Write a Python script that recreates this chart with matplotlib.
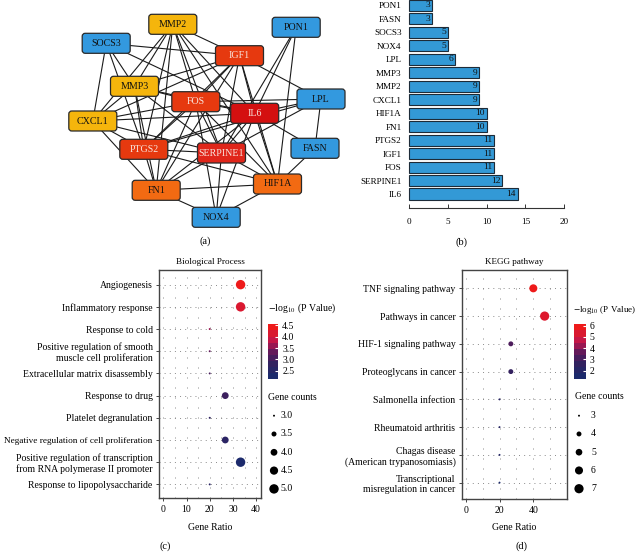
import matplotlib
matplotlib.use("Agg")
import matplotlib.pyplot as plt
import matplotlib.cm as cm
import numpy as np
from matplotlib.patches import FancyBboxPatch
from matplotlib.colors import LinearSegmentedColormap, Normalize

plt.rcParams['font.family'] = ['Liberation Serif', 'DejaVu Serif']
plt.rcParams['mathtext.fontset'] = 'stix'
plt.rcParams['lines.scale_dashes'] = False

W, H = 636, 553

# hub genes, degree in the PPI network (panels a, b)
genes = ["IL6", "SERPINE1", "FOS", "IGF1", "PTGS2", "FN1", "HIF1A", "CXCL1",
         "MMP2", "MMP3", "LPL", "NOX4", "SOCS3", "FASN", "PON1"]
degree = [14, 12, 11, 11, 11, 10, 10, 9, 9, 9, 6, 5, 5, 3, 3]

# network layout (pixel positions of node centres)
node_xy = {
    "MMP2": (172.8, 24.3), "PON1": (296.2, 27.3), "SOCS3": (106.2, 43.3),
    "IGF1": (239.5, 55.7), "MMP3": (134.5, 86.3), "LPL": (321.0, 99.0),
    "FOS": (195.8, 101.7), "IL6": (254.7, 113.3), "CXCL1": (92.8, 121.0),
    "FASN": (315.0, 148.3), "PTGS2": (143.8, 149.3), "SERPINE1": (221.5, 153.0),
    "HIF1A": (277.5, 184.0), "FN1": (156.2, 190.3), "NOX4": (216.2, 217.3),
}

edges = [
    ("PON1", "IL6"), ("PON1", "SERPINE1"), ("PON1", "HIF1A"),
    ("FASN", "LPL"), ("FASN", "IL6"), ("FASN", "HIF1A"),
    ("LPL", "IL6"), ("LPL", "FOS"), ("LPL", "IGF1"), ("LPL", "SERPINE1"), ("LPL", "PTGS2"),
    ("SOCS3", "IGF1"), ("SOCS3", "IL6"), ("SOCS3", "CXCL1"), ("SOCS3", "MMP3"), ("SOCS3", "PTGS2"),
    ("NOX4", "FN1"), ("NOX4", "HIF1A"), ("NOX4", "SERPINE1"), ("NOX4", "IL6"), ("NOX4", "FOS"),
    ("MMP2", "IGF1"), ("MMP2", "MMP3"), ("MMP2", "FOS"), ("MMP2", "IL6"), ("MMP2", "CXCL1"),
    ("MMP2", "PTGS2"), ("MMP2", "SERPINE1"), ("MMP2", "FN1"), ("MMP2", "HIF1A"),
    ("MMP3", "IGF1"), ("MMP3", "FOS"), ("MMP3", "IL6"), ("MMP3", "CXCL1"), ("MMP3", "PTGS2"),
    ("MMP3", "SERPINE1"), ("MMP3", "FN1"),
    ("CXCL1", "IGF1"), ("CXCL1", "FOS"), ("CXCL1", "IL6"), ("CXCL1", "PTGS2"),
    ("CXCL1", "SERPINE1"), ("CXCL1", "FN1"),
    ("IL6", "IGF1"), ("IL6", "FOS"), ("IL6", "PTGS2"), ("IL6", "SERPINE1"), ("IL6", "FN1"), ("IL6", "HIF1A"),
    ("SERPINE1", "FOS"), ("SERPINE1", "IGF1"), ("SERPINE1", "PTGS2"), ("SERPINE1", "HIF1A"), ("SERPINE1", "FN1"),
    ("IGF1", "FOS"), ("IGF1", "PTGS2"), ("IGF1", "FN1"), ("IGF1", "HIF1A"),
    ("FOS", "PTGS2"), ("FOS", "FN1"), ("FOS", "HIF1A"),
    ("PTGS2", "FN1"), ("PTGS2", "HIF1A"), ("FN1", "HIF1A"),
]

# (c) GO biological process
bp_terms = ["Angiogenesis", "Inflammatory response", "Response to cold",
            "Positive regulation of smooth\nmuscle cell proliferation",
            "Extracellular matrix disassembly", "Response to drug",
            "Platelet degranulation", "Negative regulation of cell proliferation",
            "Positive regulation of transcription\nfrom RNA polymerase II promoter",
            "Response to lipopolysaccharide"]
bp_ratio = [33.3, 33.3, 20.0, 20.0, 20.0, 26.7, 20.0, 26.7, 33.3, 20.0]
bp_count = [5, 5, 3, 3, 3, 4, 3, 4, 5, 3]
bp_logp = [4.55, 4.25, 3.65, 3.3, 3.05, 2.9, 2.65, 2.55, 2.12, 2.5]
bp_cb_ticks = [2.5, 3.0, 3.5, 4.0, 4.5]
bp_size_legend = [3.0, 3.5, 4.0, 4.5, 5.0]

# (d) KEGG pathway
kegg_terms = ["TNF signaling pathway", "Pathways in cancer", "HIF-1 signaling pathway",
              "Proteoglycans in cancer", "Salmonella infection", "Rheumatoid arthritis",
              "Chagas disease\n(American trypanosomiasis)",
              "Transcriptional\nmisregulation in cancer"]
kegg_ratio = [40.0, 46.7, 26.7, 26.7, 20.0, 20.0, 20.0, 20.0]
kegg_count = [6, 7, 4, 4, 3, 3, 3, 3]
kegg_logp = [6.12, 5.6, 3.2, 2.6, 2.0, 1.85, 1.7, 1.3]
kegg_cb_ticks = [2, 3, 4, 5, 6]
kegg_size_legend = [3, 4, 5, 6, 7]

cmap = LinearSegmentedColormap.from_list(
    "p", [(0, "#1c2a6c"), (0.3, "#36205e"), (0.5, "#64195a"), (0.72, "#c0164c"), (1.0, "#ee1a1a")])


def px_rect(x0, y0, x1, y1):
    return [x0 / W, 1 - y1 / H, (x1 - x0) / W, (y1 - y0) / H]


def node_style(d):
    if d >= 14:
        return "#d41010", "#f8e4dc"
    if d >= 12:
        return "#e0261a", "#f8e4dc"
    if d >= 11:
        return "#e6390f", "#f8e4dc"
    if d >= 10:
        return "#f26a12", "#111111"
    if d >= 9:
        return "#f5b50c", "#111111"
    return "#3399df", "#111111"


fig = plt.figure(figsize=(W / 100, H / 100), dpi=100)

# overlay axes in pixel coordinates: network, labels, size legends
ov = fig.add_axes([0, 0, 1, 1])
ov.set_xlim(0, W)
ov.set_ylim(H, 0)
ov.axis("off")

for a, b in edges:
    (x1, y1), (x2, y2) = node_xy[a], node_xy[b]
    ov.plot([x1, x2], [y1, y2], color="#1a1a1a", lw=0.8, zorder=1)

bw, bh = 48, 20
for g, d in zip(genes, degree):
    cx, cy = node_xy[g]
    fc, tc = node_style(d)
    ov.add_patch(FancyBboxPatch((cx - bw / 2, cy - bh / 2), bw, bh,
                                boxstyle="round,pad=0,rounding_size=3",
                                fc=fc, ec="#2a2a2a", lw=0.9, zorder=2))
    ov.text(cx, cy, g, ha="center", va="center", fontsize=7.2, color=tc, zorder=3)

ov.text(205, 241, "(a)", ha="center", va="center", fontsize=7.5)
ov.text(462, 242, "(b)", ha="center", va="center", fontsize=7.5)
ov.text(165, 546, "(c)", ha="center", va="center", fontsize=7.5)
ov.text(521, 546, "(d)", ha="center", va="center", fontsize=7.5)

# (b) degree bar chart
axb = fig.add_axes(px_rect(408.7, 0, 564.3, 208))
yb = np.arange(len(genes))
bars = axb.barh(yb, degree, height=0.82, color="#3399d6", edgecolor="#1d2b38", lw=0.8)
for bar in bars:
    bar.set_clip_on(False)
for y, v in zip(yb, degree):
    axb.text(v - 0.2, y, str(v), ha="right", va="center", fontsize=6.8, color="#111111")
axb.set_xlim(0, 20)
axb.set_ylim(-1.04, 14.4)
axb.set_yticks(yb)
axb.set_yticklabels(genes, fontsize=6.6)
axb.set_xticks([0, 5, 10, 15, 20])
for s in ["top", "right", "left"]:
    axb.spines[s].set_visible(False)
axb.spines["bottom"].set_color("#333333")
axb.spines["bottom"].set_linewidth(0.8)
axb.tick_params(axis="y", length=0, pad=5)
axb.tick_params(axis="x", direction="in", length=3, width=0.7, color="#333333", labelsize=6.6, pad=7)
axb.patch.set_alpha(0)


def dotplot(rect, terms, ratio, count, logp, xlim, xticks, xgrid, smin, smax, cmin, cmax):
    ax = fig.add_axes(px_rect(*rect))
    n = len(terms)
    y = np.arange(n)[::-1]
    for g in xgrid:
        ax.axvline(g, color="#8a8a8a", lw=0.7, ls=(0, (0.7, 6.5)), zorder=0)
    for yy in y:
        ax.axhline(yy, color="#8a8a8a", lw=0.7, ls=(0, (0.7, 3.0)), zorder=0)
    c0, c1 = min(count), max(count)
    size = lambda c: smin + (np.asarray(c, float) - c0) / (c1 - c0) * (smax - smin)
    ax.scatter(ratio, y, s=size(count), c=logp, cmap=cmap, norm=Normalize(cmin, cmax),
               linewidths=0, zorder=3)
    ax.set_xlim(*xlim)
    ax.set_ylim(-0.6, n - 1 + 0.66)
    ax.set_yticks(y)
    ax.set_yticklabels(terms, fontsize=6.5)
    ax.set_xticks(xticks)
    for s in ax.spines.values():
        s.set_color("#444444")
        s.set_linewidth(1.0)
    ax.tick_params(length=2.5, width=0.7, color="#444444", labelsize=7, pad=2.5)
    ax.tick_params(axis="y", pad=2)
    return ax, size


axc, bp_size = dotplot((159, 270, 261, 497.7), bp_terms, bp_ratio, bp_count, bp_logp,
                       (-1.85, 42.1), [0, 10, 20, 30, 40], np.arange(0, 45, 5),
                       2.0, 46.0, 2.12, 4.55)
axd, kg_size = dotplot((461.7, 270, 567.3, 499.3), kegg_terms, kegg_ratio, kegg_count, kegg_logp,
                       (-2.37, 60.1), [0, 20, 40], np.arange(0, 60, 10),
                       2.0, 44.0, 1.24, 6.12)

ov.text(210, 262, "Biological Process", ha="center", va="center", fontsize=6.6)
ov.text(514, 262, "KEGG pathway", ha="center", va="center", fontsize=6.6)
ov.text(210, 527, "Gene Ratio", ha="center", va="center", fontsize=7)
ov.text(514, 527, "Gene Ratio", ha="center", va="center", fontsize=7)


def colorbar(rect, cmin, cmax, ticks, fmt):
    cax = fig.add_axes(px_rect(*rect))
    sm = cm.ScalarMappable(norm=Normalize(cmin, cmax), cmap=cmap.resampled(9))
    cb = fig.colorbar(sm, cax=cax, ticks=ticks)
    cb.outline.set_visible(False)
    cb.set_ticklabels([fmt % t for t in ticks])
    cax.tick_params(length=2.5, width=0.8, color="white", direction="in", labelsize=7, pad=3)


colorbar((268, 324.3, 278, 379.3), 2.12, 4.55, bp_cb_ticks, "%.1f")
colorbar((574, 324.3, 585.7, 379.3), 1.24, 6.12, kegg_cb_ticks, "%d")

ov.text(268, 308, r"$-$log$_{10}$ (P Value)", ha="left", va="center", fontsize=7)
ov.text(573, 310, r"$-$log$_{10}$ (P Value)", ha="left", va="center", fontsize=6.5)
ov.text(268, 397.7, "Gene counts", ha="left", va="center", fontsize=7)
ov.text(575, 396.7, "Gene counts", ha="left", va="center", fontsize=7)

ly = 415.7 + 18.3 * np.arange(len(bp_size_legend))
ov.scatter([274] * len(ly), ly, s=bp_size(bp_size_legend), color="black", linewidths=0, zorder=3)
for yy, v in zip(ly, bp_size_legend):
    ov.text(280.5, yy, "%.1f" % v, ha="left", va="center", fontsize=7)

ly = 415.7 + 18.25 * np.arange(len(kegg_size_legend))
ov.scatter([579] * len(ly), ly, s=kg_size(kegg_size_legend), color="black", linewidths=0, zorder=3)
for yy, v in zip(ly, kegg_size_legend):
    ov.text(591, yy, "%d" % v, ha="left", va="center", fontsize=7)

# shrink any term label that would run off the left edge
fig.canvas.draw()
renderer = fig.canvas.get_renderer()
for lab in axc.get_yticklabels():
    while lab.get_window_extent(renderer).x0 < 1 and lab.get_fontsize() > 5:
        lab.set_fontsize(lab.get_fontsize() - 0.1)

fig.savefig("out.png", dpi=100)
